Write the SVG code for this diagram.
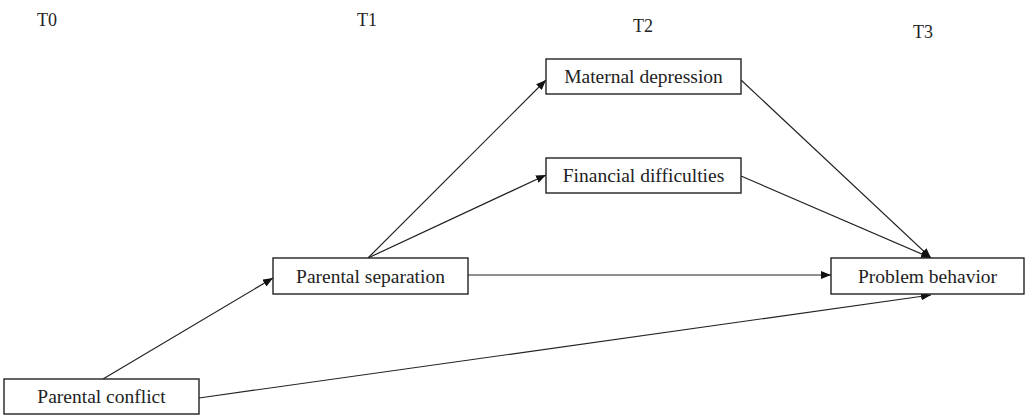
<svg xmlns="http://www.w3.org/2000/svg" width="1034" height="417" viewBox="0 0 1034 417">
<style>
.box{fill:#fff;stroke:#222;stroke-width:1.4}
.lbl{font-family:"Liberation Serif","Times New Roman",serif;font-size:19.5px;fill:#222;text-anchor:middle}
.t{font-family:"Liberation Serif","Times New Roman",serif;font-size:18px;fill:#222}
.edge{stroke:#222;stroke-width:1.2;fill:none;marker-end:url(#ah)}
</style>
<defs>
<marker id="ah" viewBox="0 0 10 8" refX="10" refY="4" markerWidth="10" markerHeight="8" markerUnits="userSpaceOnUse" orient="auto">
<path d="M0,0 L10,4 L0,8 Z" fill="#111"/>
</marker>
</defs>
<rect width="1034" height="417" fill="#fff"/>
<g id="time-labels">
<text class="t" x="37" y="26">T0</text>
<text class="t" x="357" y="26">T1</text>
<text class="t" x="633" y="32">T2</text>
<text class="t" x="913" y="38">T3</text>
</g>
<g id="connectors">
<line class="edge" x1="103" y1="379" x2="273" y2="278"/>
<line class="edge" x1="199" y1="398" x2="931" y2="295"/>
<line class="edge" x1="368" y1="258" x2="546" y2="80"/>
<line class="edge" x1="368" y1="258" x2="546" y2="175"/>
<line class="edge" x1="468" y1="275" x2="831" y2="275"/>
<line class="edge" x1="741" y1="80" x2="931" y2="258"/>
<line class="edge" x1="741" y1="176" x2="931" y2="258"/>
</g>
<g id="parental-conflict">
<rect class="box" x="4" y="379" width="195" height="35"/>
<text class="lbl" x="101.5" y="403">Parental conflict</text>
</g>
<g id="parental-separation">
<rect class="box" x="273" y="258" width="195" height="36"/>
<text class="lbl" x="370.5" y="283">Parental separation</text>
</g>
<g id="maternal-depression">
<rect class="box" x="546" y="59" width="195" height="35"/>
<text class="lbl" x="643.5" y="83">Maternal depression</text>
</g>
<g id="financial-difficulties">
<rect class="box" x="546" y="158" width="195" height="35"/>
<text class="lbl" x="643.5" y="182">Financial difficulties</text>
</g>
<g id="problem-behavior">
<rect class="box" x="831" y="258" width="193" height="36"/>
<text class="lbl" x="927.5" y="283">Problem behavior</text>
</g>
</svg>
